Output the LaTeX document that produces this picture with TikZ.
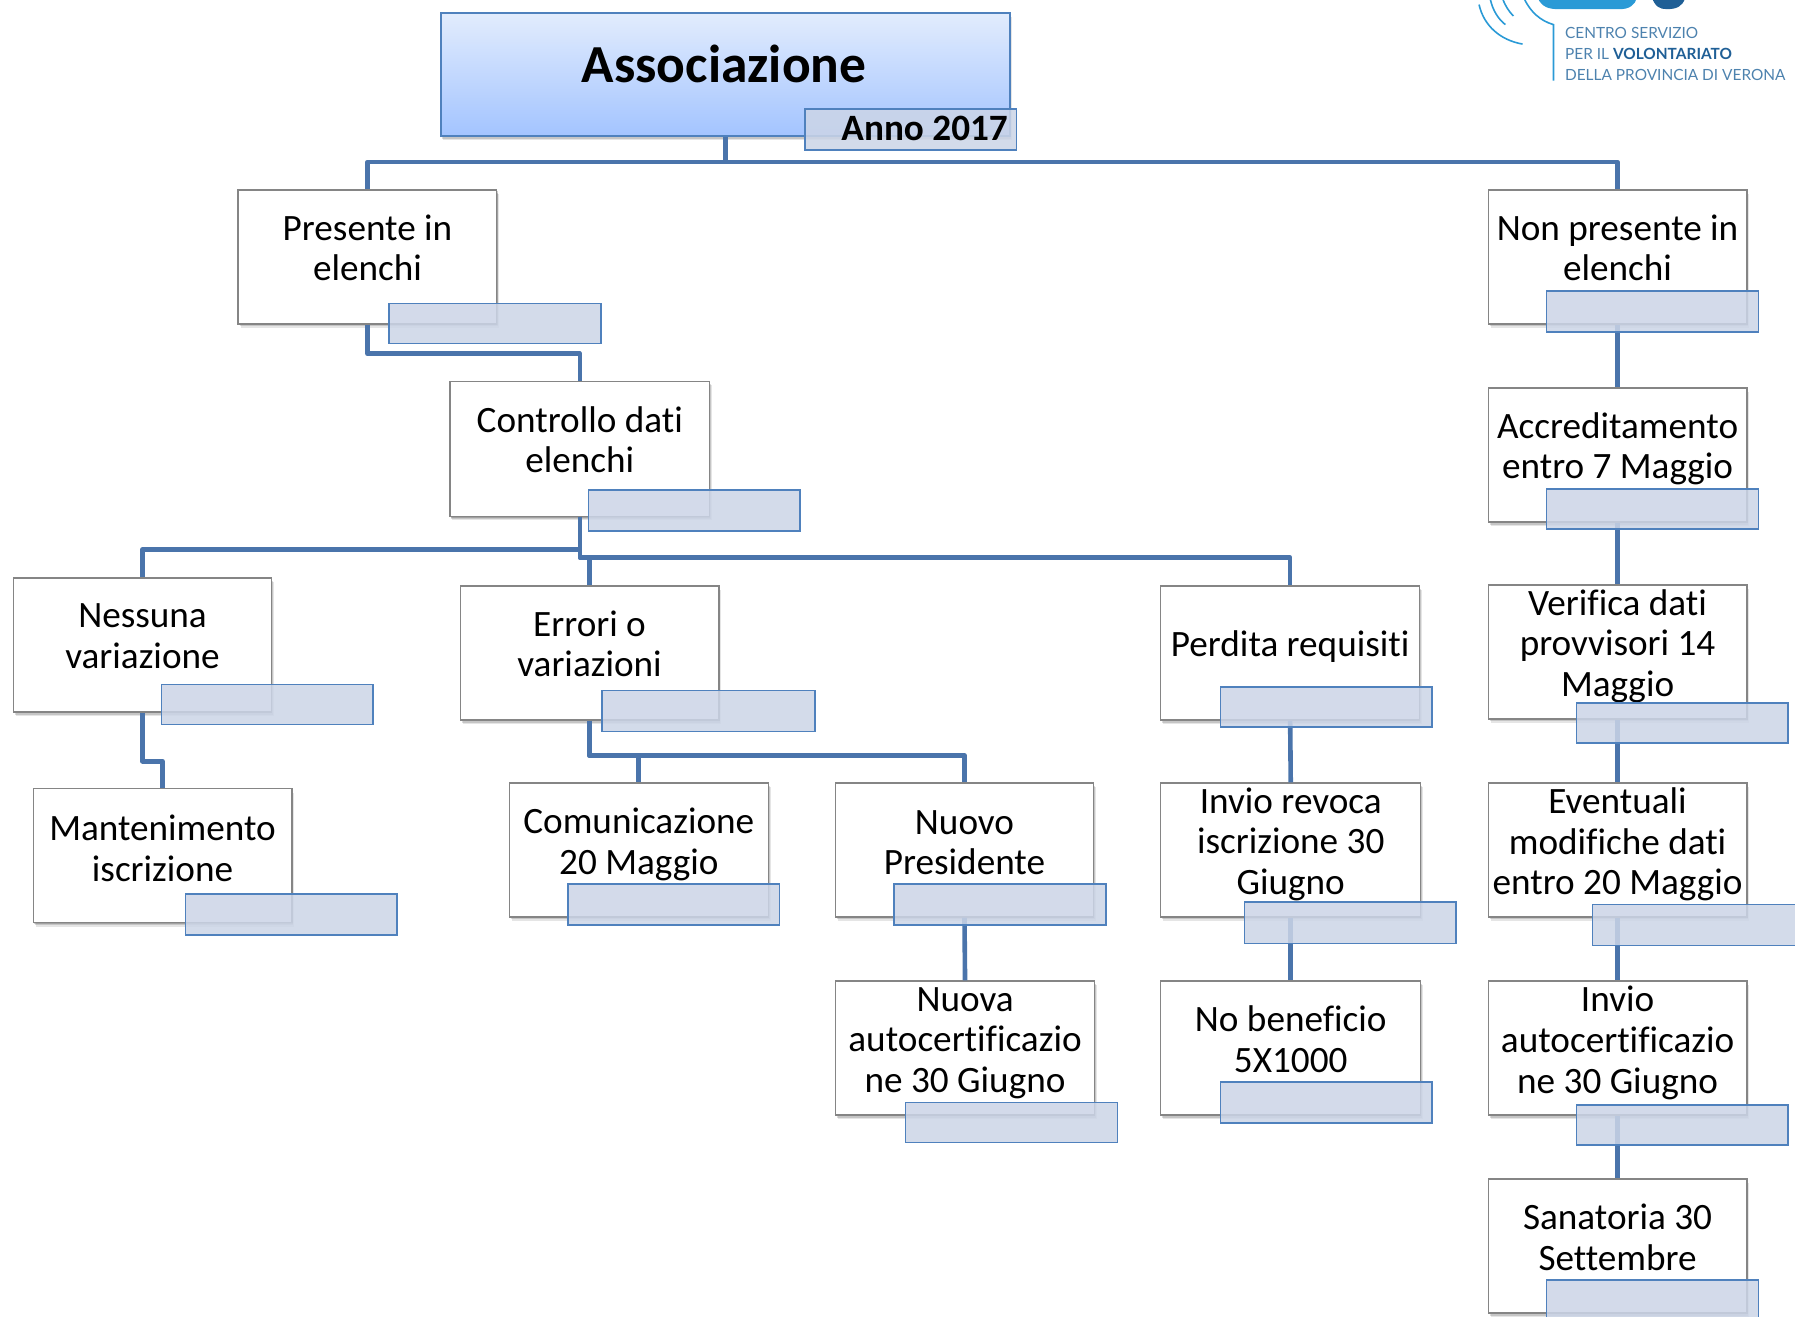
\documentclass[tikz,border=0pt]{standalone}
\usepackage{fontspec}
\setmainfont[Ligatures={NoCommon}]{Carlito}
\newfontfamily\logofont{Lato}
\usetikzlibrary{shadows,fit}
\definecolor{linkc}{HTML}{4A74AB}
\definecolor{boxedge}{HTML}{858585}
\definecolor{callfill}{HTML}{CCD5E7}
\definecolor{calledge}{HTML}{4F81BD}
\definecolor{logoc}{HTML}{4D82AE}
\definecolor{logod}{HTML}{1F5F96}
\definecolor{logol}{HTML}{2A9AD6}
\definecolor{titletop}{HTML}{E2ECFD}
\definecolor{titlebot}{HTML}{A3C4FF}
\tikzset{
  softshadow/.style={
    drop shadow={shadow xshift=2.5pt,shadow yshift=-4pt,opacity=.10,fill=black},
    drop shadow={shadow xshift=1.5pt,shadow yshift=-2.5pt,opacity=.14,fill=black},
    drop shadow={shadow xshift=.7pt,shadow yshift=-1.2pt,opacity=.18,fill=black}},
  linkline/.style={draw=linkc,line width=4.6pt,line join=round},
  stepbox/.style={inner sep=0pt,draw=boxedge,line width=1.3pt,fill=white,softshadow},
  titlebox/.style={inner sep=0pt,draw=calledge,line width=2pt,top color=titletop,bottom color=titlebot,softshadow},
  callbox/.style={inner sep=0pt,draw=calledge,line width=1.6pt,fill=callfill,fill opacity=.86},
  boxtext/.style={align=center,inner sep=0pt,font=\fontsize{37.2}{40.6}\selectfont},
  logotext/.style={anchor=base west,inner sep=0pt,text=logoc,font=\logofont\fontsize{15.4}{20}\selectfont},
  logoarc/.style={draw=logol,line width=1.6pt}
}
% box: name, x1,y1,x2,y2, text centre y, text
\newcommand{\stepnode}[7]{%
  \node[stepbox,fit={(#2,#3)(#4,#5)}] (#1) {};
  \node[boxtext] (#1t) at (#1.center |- 0,#6) {#7};
}
\newcommand{\callnode}[5]{%
  \node[callbox,fit={(#2,#3)(#4,#5)}] (#1) {};
}
\begin{document}
\begin{tikzpicture}[x=1.14477pt,y=-1.14477pt]
\useasboundingbox (0,0) rectangle (1568,1149.6);
\clip (0,0) rectangle (1568,1149.6);

% boxes first so that named anchors exist
\node[titlebox,fit={(385,11)(882,119)}] (root) {};
\node[font=\fontsize{53.5}{53.5}\selectfont\bfseries,inner sep=0pt] (roott) at (632.5,56) {Associazione};

\stepnode{pres}{208}{166}{434}{283}{216.5}{Presente in\\elenchi}
\stepnode{non}{1300}{166}{1526}{283}{216.5}{Non presente in\\elenchi}
\stepnode{ctrl}{393}{333}{620}{451}{384}{Controllo dati\\elenchi}
\stepnode{accr}{1300}{339}{1526}{456}{392}{Accreditamento\\entro 7 Maggio}
\stepnode{ness}{12}{505}{237}{622}{555.5}{Nessuna\\variazione}
\stepnode{erro}{402}{512}{628}{629}{562.5}{Errori o\\variazioni}
\stepnode{perd}{1014}{512}{1240}{629}{565}{Perdita requisiti}
\stepnode{veri}{1300}{511}{1526}{628}{564.5}{Verifica dati\\provvisori 14\\Maggio}
\stepnode{mant}{29}{689}{255}{806}{741}{Mantenimento\\iscrizione}
\stepnode{comu}{445}{684}{671}{801}{737.5}{Comunicazione\\20 Maggio}
\stepnode{nuop}{730}{684}{955}{801}{736}{Nuovo\\Presidente}
\stepnode{revo}{1014}{684}{1241}{801}{737.5}{Invio revoca\\iscrizione 30\\Giugno}
\stepnode{even}{1300}{684}{1526}{801}{737.5}{Eventuali\\modifiche dati\\entro 20 Maggio}
\stepnode{nuoa}{730}{857}{956}{974}{911}{Nuova\\autocertificazio\\ne 30 Giugno}
\stepnode{bene}{1014}{857}{1241}{974}{908}{No beneficio\\5X1000}
\stepnode{invi}{1300}{857}{1526}{974}{911}{Invio\\autocertificazio\\ne 30 Giugno}
\stepnode{sana}{1300}{1030}{1526}{1147}{1081}{Sanatoria 30\\Settembre}

% connectors
\draw[linkline] (root.south) -- (root.south |- 0,141.5) -- (pres.north |- 0,141.5) -- (pres.north);
\draw[linkline] (root.south) -- (root.south |- 0,141.5) -- (non.north |- 0,141.5) -- (non.north);
\draw[linkline] (pres.south) -- (pres.south |- 0,309) -- (ctrl.north |- 0,309) -- (ctrl.north);
\draw[linkline] (ctrl.south) -- (ctrl.south |- 0,480) -- (ness.north |- 0,480) -- (ness.north);
\draw[linkline] (ctrl.south) -- (ctrl.south |- 0,487) -- (erro.north |- 0,487) -- (erro.north);
\draw[linkline] (ctrl.south) -- (ctrl.south |- 0,487) -- (perd.north |- 0,487) -- (perd.north);
\draw[linkline] (ness.south) -- (ness.south |- 0,665) -- (mant.north |- 0,665) -- (mant.north);
\draw[linkline] (erro.south) -- (erro.south |- 0,660) -- (comu.north |- 0,660) -- (comu.north);
\draw[linkline] (erro.south) -- (erro.south |- 0,660) -- (nuop.north |- 0,660) -- (nuop.north);
\draw[linkline] (nuop.south) -- (nuoa.north);
\draw[linkline] (perd.south) -- (revo.north);
\draw[linkline] (revo.south) -- (bene.north);
\draw[linkline] (non.south) -- (accr.north);
\draw[linkline] (accr.south) -- (veri.north);
\draw[linkline] (veri.south) -- (even.north);
\draw[linkline] (even.south) -- (invi.north);
\draw[linkline] (invi.south) -- (sana.north);

% overlaid tags
\callnode{canno}{703}{95}{888}{131}
\node[anchor=east,inner sep=0pt,font=\fontsize{37.2}{40}\selectfont\bfseries] (annot) at (880.5,112) {Anno 2017};
\callnode{cpres}{340}{265}{525}{300}
\callnode{cnon}{1351}{254}{1536}{290}
\callnode{cctrl}{514}{428}{699}{464}
\callnode{caccr}{1351}{427}{1536}{462}
\callnode{cness}{141}{598}{326}{633}
\callnode{cerro}{526}{603}{712}{639}
\callnode{cperd}{1066}{600}{1251}{635}
\callnode{cveri}{1377}{614}{1562}{649}
\callnode{cmant}{162}{781}{347}{817}
\callnode{ccomu}{496}{772}{681}{808}
\callnode{cnuop}{781}{772}{966}{808}
\callnode{crevo}{1087}{788}{1272}{824}
\callnode{ceven}{1391}{790}{1576}{826}
\callnode{cnuoa}{791}{963}{976}{998}
\callnode{cbene}{1066}{945}{1251}{981}
\callnode{cinvi}{1377}{965}{1562}{1000}
\callnode{csana}{1351}{1118}{1536}{1153}

% logo
\fill[logol] (1343,-2) .. controls (1347,6) and (1352,8) .. (1362,8) -- (1415,8) .. controls (1424,8) and (1428,4) .. (1430,-2) -- cycle;
\fill[logod] (1443,-2) .. controls (1446,6) and (1450,8) .. (1456,8) .. controls (1464,8) and (1470,6) .. (1472,-2) -- cycle;
\draw[logoarc] (1332,0) .. controls (1337,10) and (1345,18) .. (1357,21.5) -- (1357,70.5);
\draw[logoarc] (1292,4) .. controls (1296,22) and (1310,35) .. (1330,38.5);
\draw[logoarc] (1302,0) .. controls (1304,9) and (1309,17) .. (1315,21.5);
\draw[logoarc] (1313,0) .. controls (1315,5) and (1318,10) .. (1322,14);
\node[logotext] (logoa) at (1367,33.5) {CENTRO SERVIZIO};
\node[logotext] (logob) at (1367,52) {PER IL \textcolor{logod}{\bfseries VOLONTARIATO}};
\node[logotext] (logoc) at (1367,70) {DELLA PROVINCIA DI VERONA};
\end{tikzpicture}
\end{document}
